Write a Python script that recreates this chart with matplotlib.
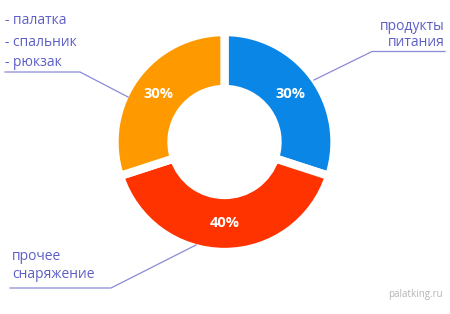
import matplotlib.pyplot as plt

plt.rcParams['font.family'] = ['Open Sans', 'DejaVu Sans']

# data
shares = [30, 40, 30]
pct_labels = ['30%', '40%', '30%']
colors = ['#0a86e6', '#ff3300', '#ff9900']

W, H = 450, 314
fig = plt.figure(figsize=(W / 100, H / 100), dpi=100)
ax = fig.add_axes([0, 0, 1, 1])

cx, cy = 224.5, H - 142
R = 110
wedges, texts, autotexts = ax.pie(
    shares, colors=colors, startangle=90, counterclock=False,
    center=(cx, cy), radius=R, autopct=lambda p: '%d%%' % round(p),
    pctdistance=0.74, frame=True,
    wedgeprops=dict(width=57, edgecolor='white', linewidth=6),
    textprops=dict(color='white', fontsize=10.5, fontweight='bold'))
ax.set_xlim(0, W)
ax.set_ylim(0, H)
ax.set_aspect('equal')
ax.axis('off')

txt = '#5d5fc4'
ln = '#8a8ad8'

def y(v):
    return H - v

# left top labels
for i, s in enumerate(['- палатка', '- спальник', '- рюкзак']):
    ax.text(5, y(21 + i * 21), s, color=txt, fontsize=10, va='center', ha='left')
ax.plot([5, 80, 128], [y(72), y(72), y(97)], color=ln, lw=0.9)

# right top
ax.text(445, y(26), 'продукты', color=txt, fontsize=10, va='center', ha='right')
ax.text(445, y(43), 'питания', color=txt, fontsize=10, va='center', ha='right')
ax.plot([445, 372, 314], [y(51.5), y(51.5), y(80)], color=ln, lw=0.9)

# bottom left
ax.text(12, y(257), 'прочее', color=txt, fontsize=10, va='center', ha='left')
ax.text(12, y(274), 'снаряжение', color=txt, fontsize=10, va='center', ha='left')
ax.plot([10, 111, 196], [y(288), y(288), y(245)], color=ln, lw=0.9)

ax.text(443, y(294), 'palatking.ru', color='#b5b5b5', fontsize=7, va='center', ha='right')

fig.savefig('out.png', dpi=100)
